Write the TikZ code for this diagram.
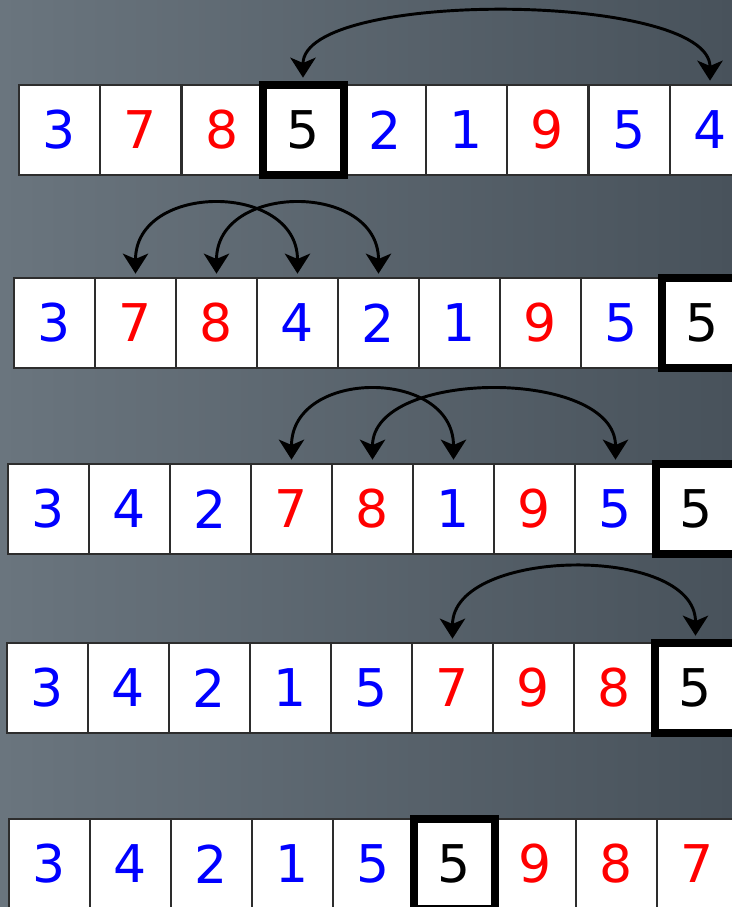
\documentclass[tikz,border=0pt]{standalone}
\usepackage{fontspec}
\setmainfont{DejaVu Sans}
\usetikzlibrary{arrows.meta}

\definecolor{bgleft}{RGB}{106,117,126}
\definecolor{bgright}{RGB}{72,82,91}
\definecolor{cellline}{RGB}{45,45,45}
\definecolor{lowblue}{RGB}{0,0,255}
\definecolor{highred}{RGB}{255,0,0}

\tikzset{
  cell/.style={draw=cellline, line width=1.5pt, fill=white, inner sep=0pt,
    minimum width=60.75pt, minimum height=67.5pt, font=\fontsize{39}{40}\selectfont},
  pivotcell/.style={cell, draw=black, line width=6pt},
  swaptip/.tip={Stealth[length=15pt,width=19pt,inset=4pt]},
  low/.style={text=lowblue},
  high/.style={text=highred},
  swaparc/.style={swaptip-swaptip, line width=2.2pt, shorten <=2.5pt, shorten >=2.5pt}
}

\begin{document}
\begin{tikzpicture}[x=0.75pt,y=0.75pt,yscale=-1,xscale=1]
\useasboundingbox (0,0) rectangle (732,907);
\clip (0,0) rectangle (732,907);

% Background
\shade [left color=bgleft, right color=bgright] (0,0) rectangle (732,907);

% Row 1
\node [cell,low]  (r1c1) at (59,130)  {3};
\node [cell,high] (r1c2) at (140,130) {7};
\node [cell,high] (r1c3) at (222,130) {8};
\node [cell,low]  (r1c5) at (385,130) {2};
\node [cell,low]  (r1c6) at (466,130) {1};
\node [cell,high] (r1c7) at (547,130) {9};
\node [cell,low]  (r1c8) at (629,130) {5};
\node [cell,low]  (r1c9) at (710,130) {4};
\node [pivotcell] (r1c4) at (303,130) {5};

% Row 2
\node [cell,low]  (r2c1) at (54.5,323)  {3};
\node [cell,high] (r2c2) at (135.5,323) {7};
\node [cell,high] (r2c3) at (216.5,323) {8};
\node [cell,low]  (r2c4) at (297.5,323) {4};
\node [cell,low]  (r2c5) at (378.5,323) {2};
\node [cell,low]  (r2c6) at (459.5,323) {1};
\node [cell,high] (r2c7) at (540.5,323) {9};
\node [cell,low]  (r2c8) at (621.5,323) {5};
\node [pivotcell] (r2c9) at (702.5,323) {5};

% Row 3
\node [cell,low]  (r3c1) at (48.5,509)  {3};
\node [cell,low]  (r3c2) at (129.5,509) {4};
\node [cell,low]  (r3c3) at (210.5,509) {2};
\node [cell,high] (r3c4) at (291.5,509) {7};
\node [cell,high] (r3c5) at (372.5,509) {8};
\node [cell,low]  (r3c6) at (453.5,509) {1};
\node [cell,high] (r3c7) at (534.5,509) {9};
\node [cell,low]  (r3c8) at (615.5,509) {5};
\node [pivotcell] (r3c9) at (696.5,509) {5};

% Row 4
\node [cell,low]  (r4c1) at (47.5,688)  {3};
\node [cell,low]  (r4c2) at (128.5,688) {4};
\node [cell,low]  (r4c3) at (209.5,688) {2};
\node [cell,low]  (r4c4) at (290.5,688) {1};
\node [cell,low]  (r4c5) at (371.5,688) {5};
\node [cell,high] (r4c6) at (452.5,688) {7};
\node [cell,high] (r4c7) at (533.5,688) {9};
\node [cell,high] (r4c8) at (614.5,688) {8};
\node [pivotcell] (r4c9) at (695.5,688) {5};

% Row 5
\node [cell,low]  (r5c1) at (49.5,864)  {3};
\node [cell,low]  (r5c2) at (130.5,864) {4};
\node [cell,low]  (r5c3) at (211.5,864) {2};
\node [cell,low]  (r5c4) at (292.5,864) {1};
\node [cell,low]  (r5c5) at (373.5,864) {5};
\node [cell,high] (r5c7) at (535.5,864) {9};
\node [cell,high] (r5c8) at (616.5,864) {8};
\node [cell,high] (r5c9) at (697.5,864) {7};
\node [pivotcell] (r5c6) at (454.5,864) {5};

% Swaps
\draw [swaparc] (r1c4.north) .. controls +(0,-92) and +(0,-92) .. (r1c9.north);
\draw [swaparc] (r2c2.north) .. controls +(0,-95) and +(0,-95) .. (r2c4.north);
\draw [swaparc] (r2c3.north) .. controls +(0,-95) and +(0,-95) .. (r2c5.north);
\draw [swaparc] (r3c4.north) .. controls +(0,-95) and +(0,-95) .. (r3c6.north);
\draw [swaparc] (r3c5.north) .. controls +(0,-95) and +(0,-95) .. (r3c8.north);
\draw [swaparc] (r4c6.north) .. controls +(0,-95) and +(0,-95) .. (r4c9.north);

\end{tikzpicture}
\end{document}
